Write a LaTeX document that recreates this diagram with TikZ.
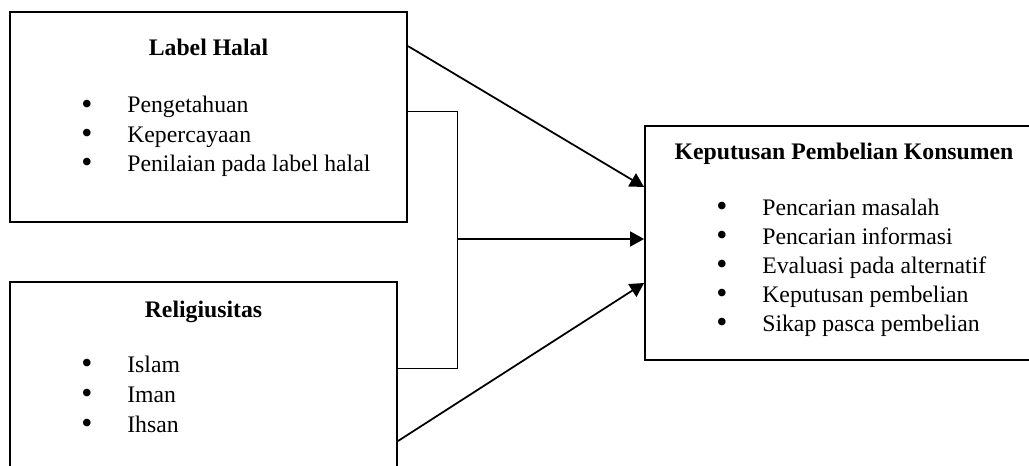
\documentclass[tikz,border=0pt]{standalone}
\usepackage{fontspec}
\setmainfont{Liberation Serif}
\usetikzlibrary{arrows.meta,calc}

\newcommand{\blt}{\makebox[0.92cm][l]{\raisebox{-0.6pt}[0pt][0pt]{\fontsize{18}{16}\selectfont\textbullet}}}

\tikzset{
  box/.style={draw, line width=1.1pt, inner sep=0pt},
  head/.style={font=\fontsize{13.5}{16}\selectfont\bfseries, anchor=base, inner sep=0pt},
  item/.style={font=\fontsize{13.5}{16}\selectfont, anchor=base west, inner sep=0pt},
  arr/.style={line width=1pt, -{Triangle[length=0.28cm,width=0.3cm]}},
  link/.style={line width=0.55pt}
}

\begin{document}
\begin{tikzpicture}[x=0.02cm,y=-0.02cm]
\useasboundingbox (0,0) rectangle (1029,466);

% the three boxes
\node[box, minimum width=7.94cm, minimum height=4.2cm] (halal) at (208.5,117) {};
\node[box, minimum width=7.74cm, minimum height=4.8cm] (rel) at (203.5,402) {};
\node[box, minimum width=9cm, minimum height=4.68cm] (kep) at (870,243) {};

% titles
\node[head] (halalT) at (208.5,56) {Label Halal};
\node[head] (relT) at (203.5,317) {Religiusitas};
\node[head] (kepT) at (844,160) {Keputusan Pembelian Konsumen};

% bullet lists
\foreach \t [count=\i] in {Pengetahuan, Kepercayaan, Penilaian pada label halal}
  \node[item] (halal\i) at (81,{113+29.3*(\i-1)}) {\blt\t};
\foreach \t [count=\i] in {Islam, Iman, Ihsan}
  \node[item] (rel\i) at (81,{372+30*(\i-1)}) {\blt\t};
\foreach \t [count=\i] in {Pencarian masalah, Pencarian informasi, Evaluasi pada alternatif,
    Keputusan pembelian, Sikap pasca pembelian}
  \node[item] (kep\i) at (716,{215+29.2*(\i-1)}) {\blt\t};

% connectors
\draw[arr] ($(halal.north east)+(0,35)$) -- ($(kep.west)+(0,-56)$);
\draw[arr] ($(rel.north east)+(0,160)$) -- ($(kep.west)+(0,40)$);
\draw[link] ($(halal.north east)+(0,100)$) -- ++(50,0) |- ($(rel.north east)+(0,87)$);
\coordinate (mid) at (457,239);
\draw[arr] (mid) -- (mid -| kep.west);
\end{tikzpicture}
\end{document}
